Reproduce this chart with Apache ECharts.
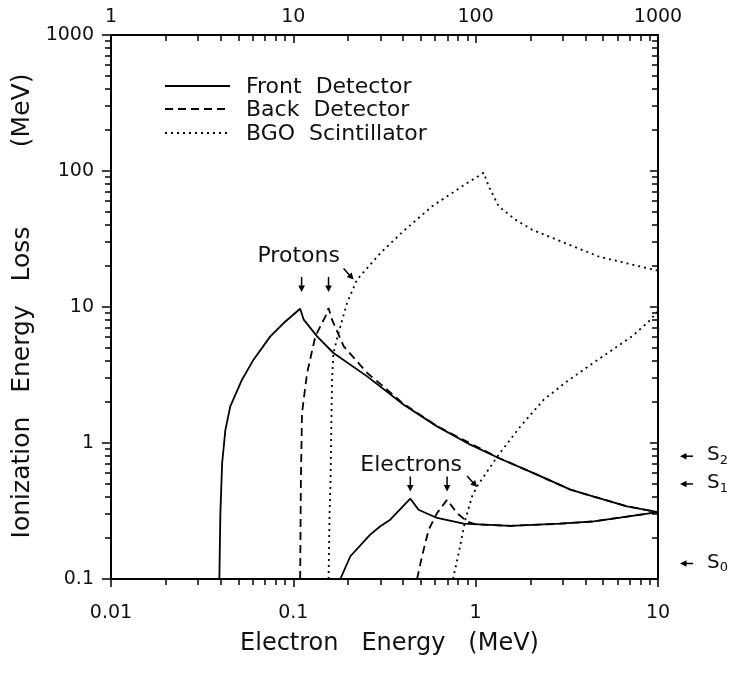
<!DOCTYPE html>
<html>
<head>
<meta charset="utf-8">
<script src="https://cdn.jsdelivr.net/npm/echarts@6/dist/echarts.min.js"></script>
<style>
  html, body { margin: 0; padding: 0; background: #fff; }
  #chart { width: 730px; height: 674px; }
</style>
</head>
<body>
<div id="chart"></div>
<script>
// Ionization energy loss (MeV) versus electron energy (MeV)

// Front detector, proton response
const frontProtonE    = [0.0393, 0.0396, 0.0398, 0.0407, 0.0424, 0.0451, 0.0523, 0.0605, 0.0748, 0.0885, 0.109, 0.114, 0.135, 0.166, 0.254, 0.403, 0.614, 0.935, 1.337, 2.17, 3.31, 4.44, 6.77, 10];
const frontProtonLoss = [0.1, 0.2, 0.305, 0.713, 1.25, 1.86, 2.92, 4.1, 6.08, 7.62, 9.7, 8.07, 6.08, 4.59, 3.09, 1.91, 1.325, 0.972, 0.776, 0.585, 0.454, 0.404, 0.342, 0.31];

// Front detector, electron response
const frontElectronE    = [0.181, 0.2055, 0.264, 0.30, 0.34, 0.438, 0.486, 0.614, 0.859, 1.55, 2.9, 4.44, 6.77, 10];
const frontElectronLoss = [0.1, 0.147, 0.212, 0.244, 0.273, 0.39, 0.323, 0.281, 0.255, 0.246, 0.255, 0.265, 0.288, 0.31];

// Back detector, proton response
const backProtonE    = [0.109, 0.110, 0.1116, 0.1164, 0.119, 0.132, 0.15, 0.156, 0.163, 0.189, 0.2236, 0.254, 0.30, 0.40, 0.614, 1.337, 2.17, 3.31, 4.44, 6.77, 10];
const backProtonLoss = [0.1, 0.537, 1.66, 2.61, 3.27, 6.08, 8.53, 9.84, 8.07, 5.13, 3.98, 3.27, 2.72, 1.95, 1.33, 0.776, 0.585, 0.454, 0.404, 0.342, 0.31];

// Back detector, electron response
const backElectronE    = [0.477, 0.508, 0.552, 0.614, 0.697, 0.79, 0.898, 1.0, 1.55, 2.9, 4.44, 6.77, 10];
const backElectronLoss = [0.1, 0.147, 0.23, 0.305, 0.383, 0.305, 0.265, 0.252, 0.246, 0.255, 0.265, 0.288, 0.31];

// BGO scintillator, proton response
const bgoProtonE    = [0.156, 0.158, 0.16, 0.163, 0.166, 0.177, 0.197, 0.2236, 0.264, 0.30, 0.40, 0.577, 0.878, 1.107, 1.18, 1.337, 1.65, 2.04, 3.1, 4.73, 7.2, 10];
const bgoProtonLoss = [0.1, 0.3, 0.537, 2.92, 4.59, 6.44, 10.7, 15.9, 20.5, 24.9, 36, 55, 80, 97, 77, 55, 43.9, 37, 29.5, 23.5, 20.5, 18.5];

// BGO scintillator, electron response
const bgoElectronE    = [0.751, 0.807, 0.878, 0.955, 1.018, 1.337, 1.76, 2.36, 3.17, 4.5, 7.2, 8.9, 10];
const bgoElectronLoss = [0.1, 0.155, 0.273, 0.404, 0.48, 0.82, 1.325, 2.08, 2.84, 3.95, 6.08, 7.83, 9.3];

// Axis tick labels
const electronTicks = [0.01, 0.1, 1, 10];     // bottom axis (MeV)
const protonTicks   = [1, 10, 100, 1000];     // top axis
const lossTicks     = [0.1, 1, 10, 100, 1000];

// Legend entries and discriminator thresholds
const legendNames   = ['Front  Detector', 'Back  Detector', 'BGO  Scintillator'];
const thresholdTags = ['0', '1', '2'];
const thresholdLoss = [0.13, 0.5, 0.8];

// Annotation anchors (data coordinates)
const protonLabelAt   = [0.107, 23.8];
const electronLabelAt = [0.443, 0.68];
const protonArrowTips   = [[0.111, 12.9], [0.156, 12.9], [0.214, 15.9]];
const electronArrowTips = [[0.438, 0.44], [0.697, 0.44], [1.018, 0.475]];

const FONT = 'DejaVu Sans';
const INK = '#111';

function zip(xs, ys) { return xs.map((x, i) => [x, ys[i]]); }
function minorOf(ticks) {
  const out = [];
  for (let i = 0; i < ticks.length - 1; i++)
    for (let k = 2; k <= 9; k++) out.push(+(ticks[i] * k).toPrecision(4));
  return out;
}

const solid  = { color: '#000', width: 1.8, type: 'solid' };
const dashed = { color: '#000', width: 1.8, type: [8, 5] };
const dotted = { color: '#000', width: 1.8, type: [2, 4] };

function curve(name, xs, ys, style) {
  return {
    type: 'line', name, data: zip(xs, ys), showSymbol: false, symbol: 'none',
    lineStyle: style, xAxisIndex: 0, yAxisIndex: 0, z: 3, animation: false
  };
}

const lineW = 2;
function logAxis(pos, min, max, opts) {
  const a = {
    type: 'log', logBase: 10, position: pos, min, max,
    splitLine: { show: false },
    axisLine: { show: opts.line, onZero: false, lineStyle: { color: '#000', width: lineW } },
    axisTick: { show: true, inside: opts.inside, length: opts.tickLen,
      customValues: opts.ticks, lineStyle: { color: '#000', width: 1.5 } },
    axisLabel: opts.labels ? {
      show: true, customValues: opts.ticks, margin: opts.margin,
      formatter: v => String(v), fontFamily: FONT, fontSize: 19, color: INK
    } : { show: false },
    minorTick: { show: false }
  };
  return Object.assign(a, opts.extra || {});
}

const chart = echarts.init(document.getElementById('chart'), null, { renderer: 'canvas' });

const option = {
  animation: false,
  backgroundColor: '#fff',
  grid: { left: 111, right: 72, top: 35, bottom: 95, outerBoundsMode: 'none' },
  xAxis: [
    logAxis('bottom', electronTicks[0], electronTicks[3], {
      line: true, inside: false, tickLen: 8, ticks: electronTicks, labels: true, margin: 25,
      extra: { name: 'Electron   Energy   (MeV)', nameLocation: 'middle', nameGap: 53,
        nameTextStyle: { fontFamily: FONT, fontSize: 24, color: INK, padding: [0, 0, 0, 10] } }
    }),
    logAxis('top', protonTicks[0], protonTicks[3], {
      line: true, inside: true, tickLen: 8, ticks: protonTicks, labels: true, margin: 8
    }),
    logAxis('bottom', electronTicks[0], electronTicks[3], {
      line: false, inside: false, tickLen: 6, ticks: minorOf(electronTicks), labels: false
    }),
    logAxis('top', protonTicks[0], protonTicks[3], {
      line: false, inside: true, tickLen: 6, ticks: minorOf(protonTicks), labels: false
    })
  ],
  yAxis: [
    logAxis('left', lossTicks[0], lossTicks[4], {
      line: true, inside: false, tickLen: 9, ticks: lossTicks, labels: true, margin: 17,
      extra: { name: 'Ionization   Energy   Loss          (MeV)', nameLocation: 'middle', nameGap: 71,
        nameTextStyle: { fontFamily: FONT, fontSize: 25, color: INK, padding: [0, 0, 0, 2] } }
    }),
    logAxis('right', lossTicks[0], lossTicks[4], {
      line: true, inside: true, tickLen: 8, ticks: lossTicks, labels: false
    }),
    logAxis('left', lossTicks[0], lossTicks[4], {
      line: false, inside: false, tickLen: 6, ticks: minorOf(lossTicks), labels: false
    }),
    logAxis('right', lossTicks[0], lossTicks[4], {
      line: false, inside: true, tickLen: 6, ticks: minorOf(lossTicks), labels: false
    })
  ],
  series: [
    curve(legendNames[0], frontProtonE, frontProtonLoss, solid),
    curve(legendNames[0], frontElectronE, frontElectronLoss, solid),
    curve(legendNames[1], backProtonE, backProtonLoss, dashed),
    curve(legendNames[1], backElectronE, backElectronLoss, dashed),
    curve(legendNames[2], bgoProtonE, bgoProtonLoss, dotted),
    curve(legendNames[2], bgoElectronE, bgoElectronLoss, dotted)
  ]
};
chart.setOption(option);

// ---- annotations: legend, labels, arrows, thresholds ----
const toPx = p => chart.convertToPixel({ xAxisIndex: 0, yAxisIndex: 0 }, p);

function arrow(x1, y1, x2, y2) {
  const dx = x2 - x1, dy = y2 - y1, len = Math.hypot(dx, dy);
  const ux = dx / len, uy = dy / len, hl = 6.5, hw = 3.3;
  const bx = x2 - ux * hl, by = y2 - uy * hl;
  return [
    { type: 'line', silent: true, shape: { x1, y1, x2: bx + ux, y2: by + uy },
      style: { stroke: '#000', lineWidth: 1.5 } },
    { type: 'polygon', silent: true,
      shape: { points: [[x2, y2], [bx - uy * hw, by + ux * hw], [bx + uy * hw, by - ux * hw]] },
      style: { fill: '#000' } }
  ];
}
function label(text, x, y, size, align) {
  return { type: 'text', silent: true, x, y,
    style: { text, fontFamily: FONT, fontSize: size, fill: INK,
      align: align || 'center', verticalAlign: 'middle' } };
}

const g = [];
// legend
const legendStyles = [solid, dashed, dotted];
const legendRows = [86, 109, 133];
legendNames.forEach((nm, i) => {
  const s = legendStyles[i];
  g.push({ type: 'line', silent: true,
    shape: { x1: 165, y1: legendRows[i], x2: 230, y2: legendRows[i] },
    style: { stroke: '#000', lineWidth: s.width, lineDash: s.type === 'solid' ? null : s.type } });
  g.push(label(nm, 246, legendRows[i] + 1, 22, 'left'));
});

// particle labels
let p = toPx(protonLabelAt);
g.push(label('Protons', p[0], p[1], 22));
p = toPx(electronLabelAt);
g.push(label('Electrons', p[0], p[1], 22));

// arrows: two vertical, one diagonal, for each group
function arrowSet(tips) {
  tips.forEach((t, i) => {
    const q = toPx(t);
    if (i < 2) g.push(...arrow(q[0], q[1] - 15, q[0], q[1]));
    else g.push(...arrow(q[0] - 10, q[1] - 11, q[0], q[1]));
  });
}
arrowSet(protonArrowTips);
arrowSet(electronArrowTips);

// discriminator thresholds beside the right axis
const rightEdge = toPx([electronTicks[3], 1])[0];
thresholdLoss.forEach((v, i) => {
  const y = toPx([1, v])[1];
  g.push(...arrow(rightEdge + 35, y, rightEdge + 22, y));
  g.push({ type: 'text', silent: true, x: rightEdge + 49, y: y - 1,
    style: { text: 'S{s|' + thresholdTags[i] + '}', fontFamily: FONT, fontSize: 20, fill: INK,
      align: 'left', verticalAlign: 'middle',
      rich: { s: { fontFamily: FONT, fontSize: 13, fill: INK, padding: [11, 0, 0, 0] } } } });
});

chart.setOption({ graphic: { elements: g } });
</script>
</body>
</html>
